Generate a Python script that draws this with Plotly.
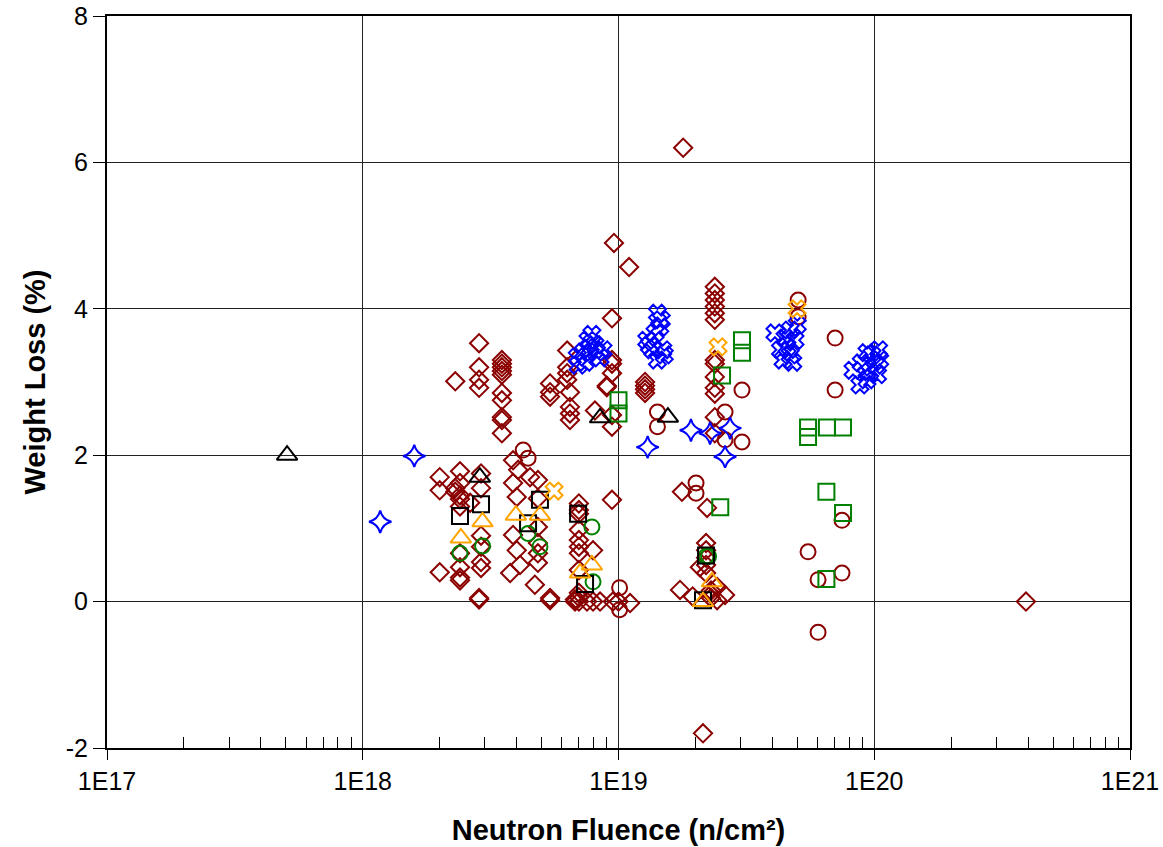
import plotly.graph_objects as go

# ---------------- data ----------------
# Dark red open diamonds
dia_x = [1.79e19, 3.92e20, 2.14e19, 9.6e18, 1.10e19, 9.43e18,
         2.0e18, 2.0e18, 2.0e18,
         2.30e18,
         2.4e18, 2.4e18, 2.4e18, 2.4e18, 2.4e18, 2.4e18, 2.4e18, 2.4e18, 2.4e18,
         2.30e18, 2.30e18, 2.63e18,
         2.85e18, 2.85e18, 2.85e18, 2.85e18, 2.9e18, 2.9e18, 2.9e18, 2.9e18, 2.85e18, 2.85e18, 2.9e18, 2.9e18,
         3.5e18, 3.5e18, 3.5e18, 3.5e18, 3.5e18, 3.5e18, 3.5e18, 3.5e18, 3.5e18, 3.5e18,
         3.87e18, 3.87e18, 3.87e18, 3.77e18,
         4.05e18, 4.0e18, 4.0e18, 4.12e18,
         4.51e18, 4.71e18,
         4.84e18, 4.84e18, 4.84e18, 4.84e18, 4.84e18, 4.84e18,
         5.4e18, 5.4e18, 5.4e18, 5.4e18, 5.4e18,
         6.3e18, 6.3e18, 6.3e18, 6.3e18, 6.46e18, 6.46e18, 6.46e18, 6.46e18,
         7.0e18, 7.0e18, 7.0e18, 7.0e18, 7.0e18, 7.0e18, 7.0e18, 7.0e18, 7.0e18, 7.0e18, 7.0e18,
         6.76e18, 6.76e18, 7.53e18, 7.95e18, 7.95e18, 8.47e18,
         9.0e18, 9.0e18, 9.43e18, 9.43e18, 9.43e18, 9.43e18, 9.43e18, 9.43e18, 8.09e18,
         9.51e18, 1.0e19, 1.11e19,
         1.27e19, 1.27e19, 1.27e19, 1.27e19,
         2.38e19, 2.38e19, 2.38e19, 2.38e19, 2.38e19, 2.38e19, 2.38e19, 2.38e19, 2.38e19, 2.38e19, 2.38e19, 2.38e19, 2.38e19,
         1.77e19, 2.22e19, 2.2e19, 2.2e19, 2.2e19, 2.08e19, 2.43e19, 2.61e19, 1.74e19, 1.95e19, 2.43e19,
         2.3e19, 2.3e19, 2.3e19, 2.2e19, 2.2e19]
dia_y = [6.20, 0.0, -1.80, 4.90, 4.57, 3.87,
         1.70, 1.52, 0.40,
         3.01,
         1.78, 1.62, 1.45, 1.40, 1.30, 0.66, 0.47, 0.33, 0.29,
         1.55, 1.50, 1.35,
         3.53, 3.20, 3.03, 2.92, 1.75, 1.55, 0.54, 0.46, 0.05, 0.03, 0.90, 0.75,
         3.30, 3.25, 3.20, 3.15, 3.10, 2.85, 2.75, 2.52, 2.48, 2.30,
         1.93, 1.62, 0.91, 0.39,
         1.80, 1.43, 0.70, 0.50,
         1.70, 0.23,
         1.66, 1.41, 1.02, 0.80, 0.66, 0.53,
         2.98, 2.86, 2.80, 0.02, 0.05,
         3.43, 3.20, 3.12, 3.03, 2.86, 2.66, 2.57, 2.48,
         1.34, 1.25, 1.20, 0.98, 0.84, 0.75, 0.66, 0.43, 0.12, 0.0, 0.06,
         0.0, 0.03, 0.0, 0.70, 0.0, 0.0,
         2.93, 2.95, 3.30, 3.25, 3.12, 2.55, 2.39, 1.39, 2.61,
         0.0, 0.0, -0.02,
         2.95, 2.90, 2.85, 3.00,
         4.30, 4.21, 4.12, 4.03, 3.94, 3.85, 3.30, 3.25, 3.07, 2.92, 2.84, 2.52, 2.30,
         1.50, 1.28, 0.80, 0.70, 0.39, 0.47, 0.20, 0.09, 0.16, 0.07, 0.02,
         0.05, 0.10, 0.15, 0.60, 0.50]

# Dark red open circles
cir_x = [4.24e18, 4.43e18, 1.01e19, 1.01e19, 1.42e19, 1.42e19, 3.04e19, 2.61e19, 2.61e19, 3.04e19,
         5.04e19, 5.04e19, 7.03e19, 7.03e19, 2.01e19, 2.01e19, 7.48e19, 5.51e19, 6.03e19, 7.48e19, 6.03e19]
cir_y = [2.07, 1.96, 0.19, -0.11, 2.59, 2.39, 2.89, 2.59, 2.21, 2.18,
         4.12, 3.89, 3.60, 2.89, 1.62, 1.48, 1.11, 0.68, 0.30, 0.39, -0.42]

# Blue open four-point stars
star_x = [1.17e18, 1.59e18, 1.92e19, 1.30e19, 2.28e19, 2.73e19, 2.61e19]
star_y = [1.09, 1.99, 2.34, 2.11, 2.30, 2.37, 1.98]

# Blue crosses
bx_x = [7.87e18, 7.6e18, 6.9e18, 7.3e18, 7.74e18, 8.2e18, 8.47e18, 7.4e18, 6.95e18, 8.09e18, 8.7e18,
        1.42e19, 1.45e19, 1.29e19, 1.36e19, 1.49e19, 1.42e19, 1.32e19, 1.47e19, 1.39e19, 1.51e19,
        4.09e19, 4.69e19, 4.56e19, 4.40e19, 4.90e19, 4.69e19, 4.30e19, 5.0e19, 4.48e19, 4.80e19,
        8.26e19, 9.37e19, 9.37e19, 1.01e20, 8.79e19, 1.05e20, 9.8e19, 9.6e19, 1.03e20, 8.9e19, 1.04e20]
bx_y = [3.65, 3.57, 3.34, 3.41, 3.46, 3.41, 3.33, 3.27, 3.23, 3.51, 3.44,
        3.94, 3.75, 3.57, 3.44, 3.44, 3.30, 3.50, 3.85, 3.67, 3.37,
        3.67, 3.71, 3.48, 3.30, 3.57, 3.37, 3.44, 3.78, 3.60, 3.27,
        3.16, 3.40, 3.03, 3.23, 2.96, 3.30, 3.37, 3.14, 3.10, 3.26, 3.44]

# Green open squares
gsq_x = [1.0e19, 1.0e19, 3.04e19, 3.04e19, 2.54e19, 5.51e19, 5.51e19, 6.53e19, 7.55e19, 2.50e19, 6.5e19, 7.55e19, 6.5e19]
gsq_y = [2.75, 2.57, 3.57, 3.40, 3.09, 2.38, 2.25, 2.38, 2.38, 1.29, 1.50, 1.21, 0.31]

# Green open circles
gci_x = [2.40e18, 2.94e18, 4.43e18, 4.93e18, 7.87e18, 7.95e18, 2.2e19, 2.25e19]
gci_y = [0.66, 0.76, 0.93, 0.75, 1.02, 0.27, 0.62, 0.62]

# Black open squares
ksq_x = [2.40e18, 2.90e18, 4.93e18, 4.43e18, 6.95e18, 7.4e18, 2.2e19, 2.14e19]
ksq_y = [1.17, 1.33, 1.39, 1.07, 1.20, 0.24, 0.63, 0.02]

# Orange open triangles
otr_x = [2.42e18, 2.94e18, 3.97e18, 4.93e18, 7.07e18, 7.87e18, 2.32e19, 2.14e19]
otr_y = [0.87, 1.09, 1.18, 1.18, 0.39, 0.50, 0.27, 0.0]

# Black open triangles
ktr_x = [5.06e17, 2.87e18, 8.47e18, 1.56e19]
ktr_y = [2.00, 1.70, 2.51, 2.52]

# Orange crosses
ox_x = [5.60e18, 2.45e19, 4.99e19]
ox_y = [1.51, 3.48, 4.00]

x_tick_vals = [1e17, 1e18, 1e19, 1e20, 1e21]
x_tick_text = ["1E17", "1E18", "1E19", "1E20", "1E21"]
y_tick_vals = [-2, 0, 2, 4, 6, 8]
y_tick_text = ["-2", "0", "2", "4", "6", "8"]

DARKRED = "#8B0000"
BLUE = "#0000FF"
GREEN = "#008000"
ORANGE = "#FFA500"
BLACK = "#000000"

series = [
    (dia_x, dia_y, "diamond-open", DARKRED, 14),
    (cir_x, cir_y, "circle-open", DARKRED, 15),
    (star_x, star_y, "star-diamond-open", BLUE, 16),
    (bx_x, bx_y, "x-open", BLUE, 15),
    (gsq_x, gsq_y, "square-open", GREEN, 16),
    (gci_x, gci_y, "circle-open", GREEN, 15),
    (ksq_x, ksq_y, "square-open", BLACK, 16),
    (otr_x, otr_y, "triangle-up-open", ORANGE, 18),
    (ktr_x, ktr_y, "triangle-up-open", BLACK, 18),
    (ox_x, ox_y, "x-open", ORANGE, 15),
]

fig = go.Figure()
for xs, ys, sym, col, sz in series:
    fig.add_trace(go.Scatter(
        x=xs, y=ys, mode="markers",
        marker=dict(symbol=sym, size=sz, color=col, line=dict(color=col, width=2)),
        showlegend=False, hoverinfo="x+y"))

minor_vals = [float(m) * 10.0 ** e for e in range(17, 21) for m in range(2, 10)]

FONT = "Liberation Sans, Arial, sans-serif"
fig.update_layout(
    width=1163, height=847,
    margin=dict(l=107, r=33, t=16, b=99),
    paper_bgcolor="white", plot_bgcolor="white",
    font=dict(family=FONT, size=25, color="black"),
    showlegend=False,
)
fig.update_xaxes(
    type="log", range=[17, 21], automargin=False,
    tickmode="array", tickvals=x_tick_vals, ticktext=x_tick_text,
    ticks="outside", ticklen=10, tickwidth=1, tickcolor=BLACK,
    showgrid=True, gridcolor="#222222", gridwidth=1,
    showline=True, linecolor=BLACK, linewidth=2, mirror=True,
    zeroline=False,
    minor=dict(tickmode="array", tickvals=minor_vals, ticks="inside", ticklen=11,
               tickwidth=1, tickcolor=BLACK, showgrid=False),
    tickfont=dict(size=25, family=FONT),
    title=dict(text="<b>Neutron Fluence (n/cm²)</b>", font=dict(size=29, family=FONT), standoff=26),
)
fig.update_yaxes(
    range=[-2, 8], tickmode="array", tickvals=y_tick_vals, ticktext=y_tick_text, automargin=False,
    ticks="outside", ticklen=12, tickwidth=1, tickcolor=BLACK,
    showgrid=True, gridcolor="#222222", gridwidth=1,
    showline=True, linecolor=BLACK, linewidth=2, mirror=True,
    zeroline=False,
    tickfont=dict(size=25, family=FONT),
    title=dict(text="<b>Weight Loss (%)</b>", font=dict(size=29, family=FONT), standoff=12),
)

# remove the default page margin so the figure sits at the window's top-left corner
fig.write_html("out.html", config={"displayModeBar": False},
               post_script="document.body.style.margin='0';document.body.style.padding='0';")
